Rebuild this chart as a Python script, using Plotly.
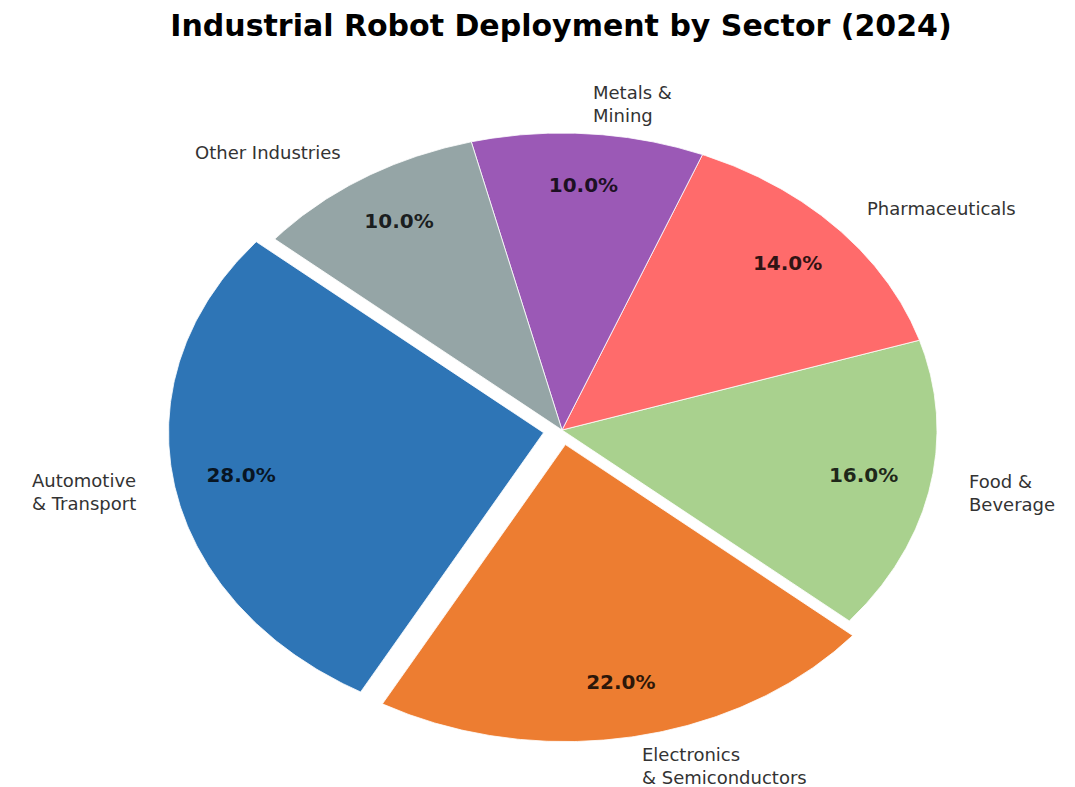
import numpy as np
import plotly.graph_objects as go

# Sector shares of industrial robot deployment (percent)
sectors = [
    "Automotive<br>& Transport",
    "Electronics<br>& Semiconductors",
    "Food &<br>Beverage",
    "Pharmaceuticals",
    "Metals &<br>Mining",
    "Other Industries",
]
shares = [28, 22, 16, 14, 10, 10]
colors = ["#2E75B6", "#ED7D31", "#A9D18E", "#FF6B6B", "#9B59B6", "#95A5A6"]
explode = [0.05, 0.05, 0, 0, 0, 0]

START_ANGLE = 140.0   # degrees, counter-clockwise from +x
PCT_DIST = 0.82
LABEL_DIST = 1.1

W, H = 1075, 787
CX, CY = 562, 430          # pie centre in pixels
RX, RY = 375, 297          # pie radii in pixels (elliptical pie)

fig = go.Figure()

total = float(sum(shares))
theta = START_ANGLE
for name, val, col, ex in zip(sectors, shares, colors, explode):
    span = 360.0 * val / total
    a0, a1 = theta, theta + span
    mid = np.deg2rad((a0 + a1) / 2)
    ox, oy = ex * np.cos(mid), ex * np.sin(mid)
    angs = np.deg2rad(np.linspace(a0, a1, 200))
    xs = np.concatenate([[ox], ox + np.cos(angs), [ox]])
    ys = np.concatenate([[oy], oy + np.sin(angs), [oy]])
    fig.add_trace(go.Scatter(
        x=xs, y=ys, mode="lines", fill="toself", fillcolor=col,
        line=dict(color="white", width=0.8), hoverinfo="text",
        text=f"{name.replace('<br>', ' ')}: {val:.1f}%", showlegend=False,
    ))
    # percentage label inside the wedge
    fig.add_trace(go.Scatter(
        x=[ox + PCT_DIST * np.cos(mid)], y=[oy + PCT_DIST * np.sin(mid)],
        mode="text", text=[f"{100 * val / total:.1f}%"],
        textfont=dict(family="DejaVu Sans", size=20, color="rgba(0,0,0,0.82)",
                      weight="bold"),
        textposition="middle center", hoverinfo="skip", showlegend=False,
    ))
    # sector name outside the wedge
    lx = ox + LABEL_DIST * np.cos(mid)
    ly = oy + LABEL_DIST * np.sin(mid)
    fig.add_annotation(
        x=lx, y=ly, text=name, showarrow=False,
        xanchor="left" if np.cos(mid) > 0 else "right", yanchor="middle",
        align="left", font=dict(family="DejaVu Sans", size=18, color="#333333"),
    )
    theta = a1

fig.update_xaxes(range=[-CX / RX, (W - CX) / RX], visible=False, fixedrange=True)
fig.update_yaxes(range=[-(H - CY) / RY, CY / RY], visible=False, fixedrange=True)

fig.update_layout(
    width=W, height=H,
    margin=dict(l=0, r=0, t=0, b=0),
    paper_bgcolor="white", plot_bgcolor="white",
    title=dict(
        text="<b>Industrial Robot Deployment by Sector (2024)</b>",
        x=561 / W, xanchor="center", y=1 - 25 / H, yanchor="middle",
        yref="container",
        font=dict(family="DejaVu Sans", size=30, color="black"),
    ),
)

fig.write_html("out.html")
